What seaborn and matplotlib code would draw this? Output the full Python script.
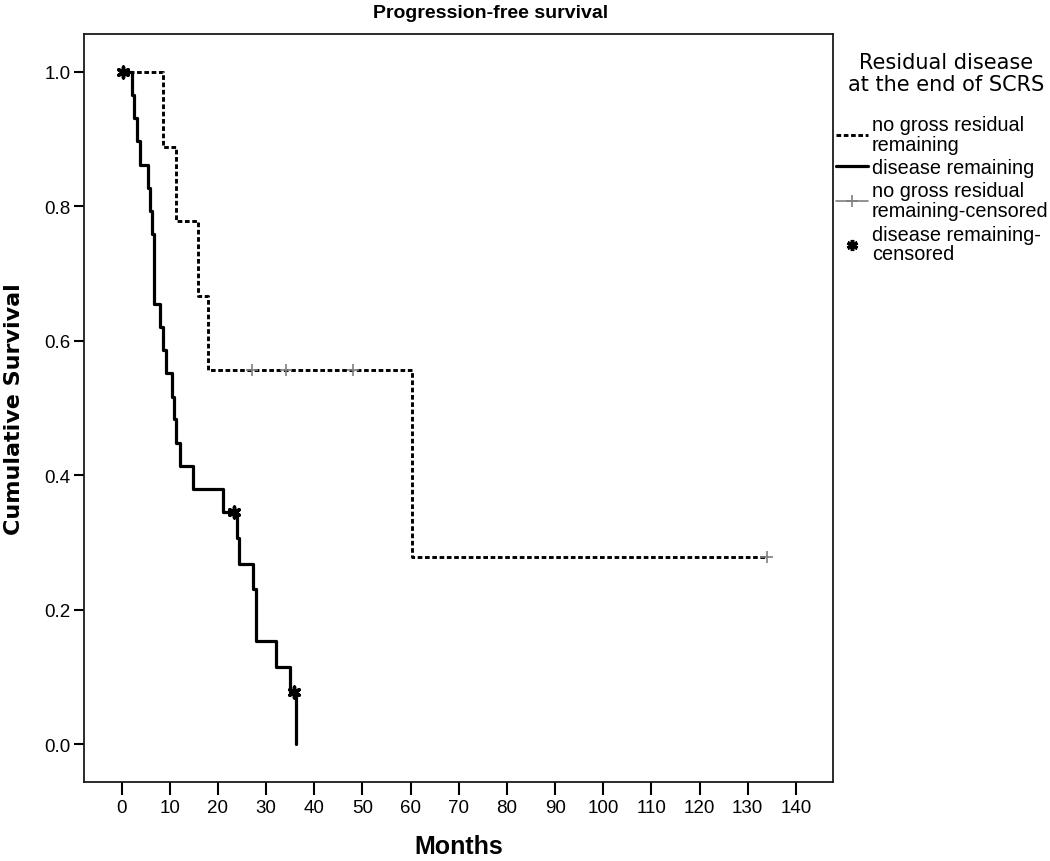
import matplotlib
matplotlib.use("Agg")
import matplotlib.pyplot as plt
import seaborn as sns
import pandas as pd
from matplotlib.lines import Line2D

# step values
nogross_time = [0, 8.6, 11.4, 15.9, 18.0, 60.2, 134.0]
nogross_surv = [1.0, 0.889, 0.778, 0.667, 0.556, 0.278, 0.278]
nogross_cens_time = [27.0, 34.1, 48.1, 134.0]
nogross_cens_surv = [0.556, 0.556, 0.556, 0.278]

disease_time = [0, 2.2, 2.6, 3.1, 3.8, 5.5, 5.9, 6.3, 6.7, 7.95, 8.6, 9.2,
                10.5, 10.9, 11.4, 12.1, 14.9, 21.0, 24.0, 24.4, 27.2, 27.9,
                32.0, 34.9, 36.3]
disease_surv = [1.0, 0.966, 0.931, 0.897, 0.862, 0.828, 0.793, 0.759, 0.655,
                0.621, 0.586, 0.552, 0.517, 0.483, 0.448, 0.414, 0.379, 0.345,
                0.307, 0.268, 0.230, 0.153, 0.115, 0.077, 0.0]
disease_cens_time = [0.3, 23.3, 35.8]
disease_cens_surv = [1.0, 0.345, 0.077]

x_ticks = list(range(0, 141, 10))
y_ticks = [0.0, 0.2, 0.4, 0.6, 0.8, 1.0]

sns.set_theme(style="ticks")
plt.rcParams["font.family"] = ["Liberation Sans", "DejaVu Sans"]
plt.rcParams["text.color"] = "black"
plt.rcParams["axes.labelcolor"] = "black"
plt.rcParams["xtick.color"] = "black"
plt.rcParams["ytick.color"] = "black"

fig = plt.figure(figsize=(10.5, 8.62), dpi=100)
ax = fig.add_axes([84 / 1050, 1 - 783 / 862, 749 / 1050, 748 / 862])

ng = pd.DataFrame({"t": nogross_time, "s": nogross_surv})
dr = pd.DataFrame({"t": disease_time, "s": disease_surv})

sns.lineplot(data=ng, x="t", y="s", drawstyle="steps-post", estimator=None,
             sort=False, color="black", lw=2.1, ax=ax)
ax.lines[-1].set_linestyle((0, (1.6, 0.9)))
sns.lineplot(data=dr, x="t", y="s", drawstyle="steps-post", estimator=None,
             sort=False, color="black", lw=2.3, ax=ax)

sns.scatterplot(x=nogross_cens_time, y=nogross_cens_surv, marker="+", s=70,
                color="#7f7f7f", linewidth=1.2, ax=ax, zorder=5)
sns.scatterplot(x=disease_cens_time, y=disease_cens_surv, marker=(6, 2, 0), s=60,
                color="black", edgecolor="black", linewidth=2.5, ax=ax, zorder=5)

ax.set_xlim(-7.8, 147.7)
ax.set_ylim(-0.0565, 1.0565)
ax.set_xticks(x_ticks)
ax.set_yticks(y_ticks)
ax.set_yticklabels([f"{v:.1f}" for v in y_ticks])
ax.tick_params(axis="x", length=9, width=1.5, pad=3, labelsize=13.5)
ax.tick_params(axis="y", length=7.5, width=1.5, pad=2, labelsize=13.5)
for sp in ax.spines.values():
    sp.set_visible(True)
    sp.set_color("#1a1a1a")
    sp.set_linewidth(1.3)

ax.set_xlabel("Months", fontsize=18, fontweight="bold")
ax.set_ylabel("Cumulative Survival", fontsize=16, fontweight="bold",
              family="DejaVu Sans")
ax.xaxis.set_label_coords(0.5, -0.07)
ax.yaxis.set_label_coords(-0.080, 0.5)
fig.text(491 / 1050, 1 - 13 / 862, "Progression-free survival", fontsize=14,
         fontweight="bold", ha="center", va="center")

# legend title drawn separately so the gap to the entries can match
fig.text(946 / 1050, 1 - 74 / 862, "Residual disease\nat the end of SCRS",
         family="DejaVu Sans", fontsize=15, ha="center", va="center",
         multialignment="center", linespacing=1.1)

handles = [
    Line2D([], [], color="black", lw=2.1, linestyle=(0, (1.6, 0.9))),
    Line2D([], [], color="black", lw=2.3),
    Line2D([], [], color="#7f7f7f", lw=1.2, marker="+", markersize=9, mew=1.2),
    Line2D([], [], color="black", lw=0, marker=(6, 2, 0), markersize=8, mew=2.5),
]
labels = ["no gross residual\nremaining", "disease remaining",
          "no gross residual\nremaining-censored", "disease remaining-\ncensored"]
leg = fig.legend(handles, labels, loc="upper left",
                 bbox_to_anchor=(836 / 1050, 1 - 116 / 862), frameon=False,
                 fontsize=14.3, handlelength=1.6, handletextpad=0.2,
                 labelspacing=0.22, borderpad=0, borderaxespad=0)
for t in leg.get_texts():
    t.set_linespacing(1.05)

fig.savefig("out.png", dpi=100)
